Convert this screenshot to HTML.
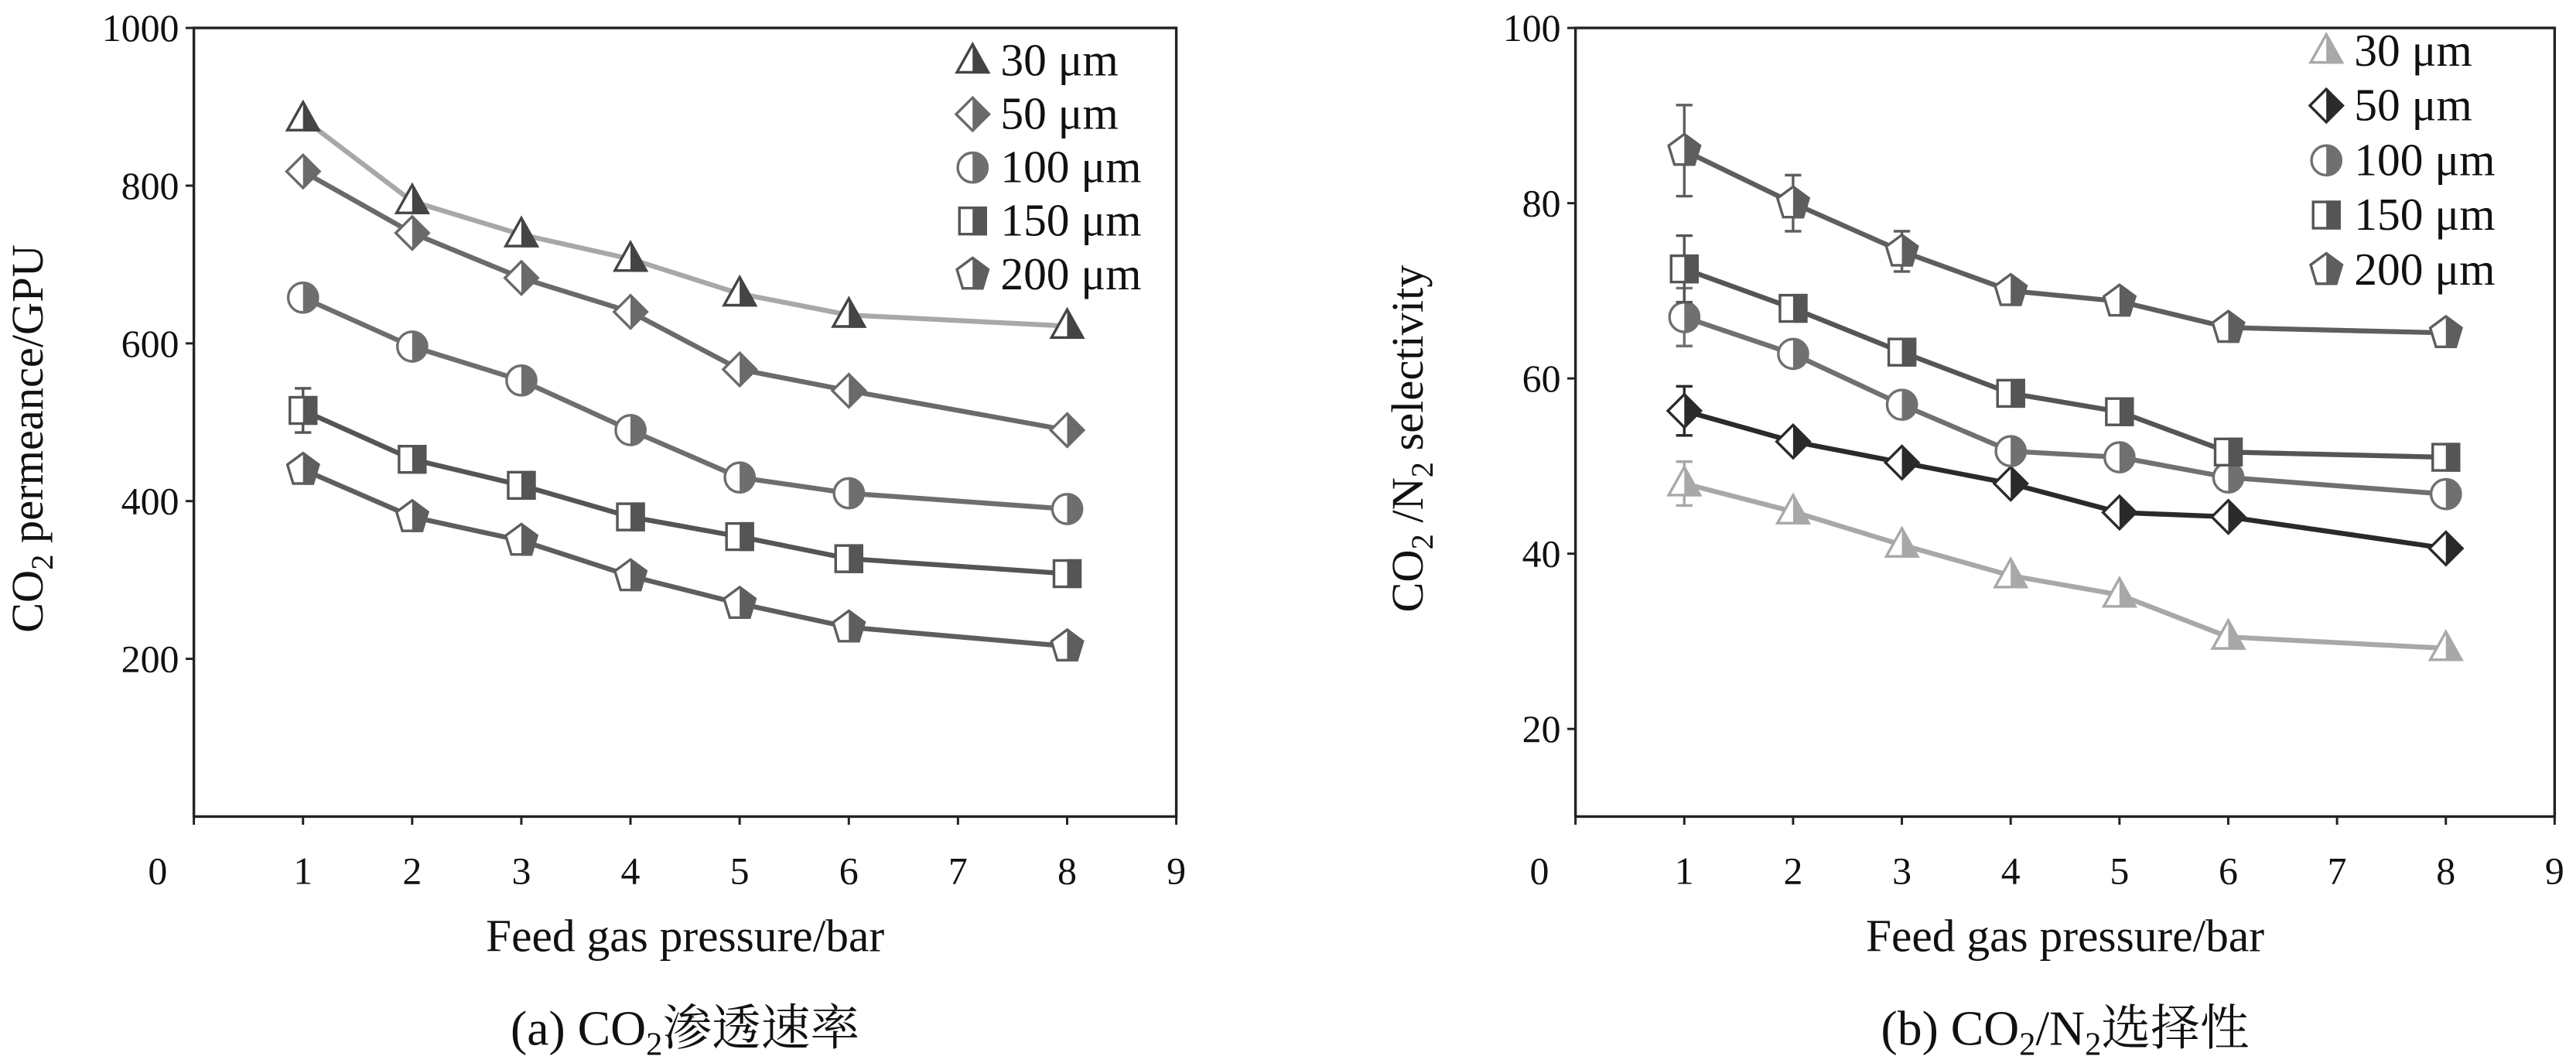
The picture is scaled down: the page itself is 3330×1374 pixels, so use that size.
<!DOCTYPE html>
<html><head><meta charset="utf-8"><style>
html,body{margin:0;padding:0;background:#fff;}
svg{display:block;}
text{font-family:"Liberation Serif","Noto Serif CJK SC",serif;fill:#111;}
</style></head><body>
<svg id="fig" width="3330" height="1374" viewBox="0 0 1568 647" preserveAspectRatio="none" xmlns="http://www.w3.org/2000/svg">
<defs><clipPath id="rh" clipPathUnits="userSpaceOnUse"><rect x="0" y="-20" width="20" height="40"/></clipPath></defs>
<g id="pa"></g>
<g id="pb"></g>
</svg>
<script>
const NS="http://www.w3.org/2000/svg";
const xVals=[1,2,3,4,5,6,8];
const xTicks=[0,1,2,3,4,5,6,7,8,9];
const labels=["30 μm","50 μm","100 μm","150 μm","200 μm"];
const shapes=["tri","dia","circ","sq","pent"];
// chart a: CO2 permeance
const perm30=[885,780,738,707,663,636,622];
const perm50=[818,740,683,640,567,540,490];
const perm100=[658,596,553,490,430,410,390];
const perm150=[515,453,420,380,355,327,308];
const perm200=[440,380,350,305,270,240,216];
const permErr150=[28,0,0,0,0,0,0];
const permErr200=[12,0,0,0,0,0,0];
const permTicks=[200,400,600,800,1000];
// chart b: selectivity
const sel30=[48,44.8,41,37.5,35.3,30.5,29.2];
const sel50=[56.3,52.8,50.4,48,44.7,44.2,40.6];
const sel100=[67,62.8,57,51.7,51,48.7,46.8];
const sel150=[72.5,68,63,58.3,56.2,51.6,51];
const sel200=[86,80,74.5,70,68.8,65.8,65.2];
const selErr30=[2.5,0,0,0,0,0,0];
const selErr50=[2.8,0,0,0,0,0,0];
const selErr100=[3.3,0,0,0,0,0,0];
const selErr150=[3.8,0,0,0,0,0,0];
const selErr200=[5.2,3.2,2.3,1.3,0,0,0];
const selTicks=[20,40,60,80,100];

function el(p,t,a){const e=document.createElementNS(NS,t);for(const k in a)e.setAttribute(k,a[k]);p.appendChild(e);return e;}
function shapeEl(p,s,fill,stroke){
  const a={fill:fill,stroke:stroke,"stroke-width":1.6};
  if(s==="tri"){a.points="0,-10 9.5,7 -9.5,7";return el(p,"polygon",a);}
  if(s==="dia"){a.points="0,-10 10,0 0,10 -10,0";return el(p,"polygon",a);}
  if(s==="circ"){a.cx=0;a.cy=0;a.r=9;return el(p,"circle",a);}
  if(s==="sq"){a.x=-8;a.y=-8;a.width=16;a.height=16;return el(p,"rect",a);}
  a.points="0,-10 9.5,-3 6,8.5 -6,8.5 -9.5,-3";return el(p,"polygon",a);
}
function marker(p,x,y,s,col){
  const g=el(p,"g",{transform:`translate(${x},${y})`});
  
  
  shapeEl(g,s,"#fff",col);
  const h=shapeEl(g,s,col,col);h.setAttribute("clip-path","url(#rh)");
  return g;
}
function chart(root,o){
  const X=v=>o.x0+v*(o.x9-o.x0)/9;
  const Y=v=>o.yb-(v-o.ymin)*(o.yb-o.yt)/(o.ymax-o.ymin);
  el(root,"rect",{x:o.x0,y:o.yt,width:o.x9-o.x0,height:o.yb-o.yt,fill:"none",stroke:"#222","stroke-width":1.6});
  xTicks.forEach(t=>{
    el(root,"line",{x1:X(t),x2:X(t),y1:o.yb,y2:o.yb+5,stroke:"#222","stroke-width":1.4});
    const tx=el(root,"text",{x:t===0?X(t)-22:X(t),y:o.yb+41,"text-anchor":"middle","font-size":23.5});
    tx.textContent=t;
    
    
  });
  o.yTicks.forEach(t=>{
    el(root,"line",{x1:o.x0-5,x2:o.x0,y1:Y(t),y2:Y(t),stroke:"#222","stroke-width":1.4});
    const tx=el(root,"text",{x:o.x0-9,y:Y(t)+8,"text-anchor":"end","font-size":23.5});
    tx.textContent=t;
    
    
  });
  o.series.forEach((s,i)=>{
    const g=el(root,"g",{});
    
    
    el(g,"polyline",{points:s.v.map((v,j)=>X(xVals[j])+","+Y(v)).join(" "),fill:"none",stroke:s.lc,"stroke-width":3});
    s.v.forEach((v,j)=>{
      const e=s.e?s.e[j]:0;
      if(e>0){const x=X(xVals[j]);
        el(g,"line",{x1:x,x2:x,y1:Y(v+e),y2:Y(v-e),stroke:s.mc,"stroke-width":1.6});
        el(g,"line",{x1:x-5,x2:x+5,y1:Y(v+e),y2:Y(v+e),stroke:s.mc,"stroke-width":1.6});
        el(g,"line",{x1:x-5,x2:x+5,y1:Y(v-e),y2:Y(v-e),stroke:s.mc,"stroke-width":1.6});}
      marker(g,X(xVals[j]),Y(v),shapes[i],s.mc);
    });
    const lg=el(root,"g",{});
    
    
    marker(lg,o.lx,o.ly+i*o.ld,shapes[i],s.mc);
    const t=el(lg,"text",{x:o.lx+17,y:o.ly+i*o.ld+9,"font-size":28});t.textContent=labels[i];
  });
  const xt=el(root,"text",{x:(o.x0+o.x9)/2,y:579,"text-anchor":"middle","font-size":28});
  xt.textContent="Feed gas pressure/bar";
  
  
  const yt=el(root,"text",{transform:`translate(${o.ytx},${(o.yt+o.yb)/2+10}) rotate(-90)`,"text-anchor":"middle","font-size":27.5});
  yt.innerHTML=o.ytitle;
  
  
  const cp=el(root,"text",{x:(o.x0+o.x9)/2,y:636,"text-anchor":"middle","font-size":30});
  cp.innerHTML=o.cap;
  
  
}
chart(document.getElementById("pa"),{x0:118,x9:716,yt:17,yb:497,ymin:0,ymax:1000,yTicks:permTicks,lx:592,ly:37,ld:32.5,ytx:26,
 ytitle:'CO<tspan font-size="19" dy="6">2</tspan><tspan dy="-6"> permeance/GPU</tspan>',
 cap:'(a) CO<tspan font-size="20" dy="6">2</tspan><tspan dy="-6">渗透速率</tspan>',
 series:[{v:perm30,lc:"#a8a8a8",mc:"#444"},{v:perm50,lc:"#6a6a6a",mc:"#6a6a6a"},{v:perm100,lc:"#6e6e6e",mc:"#6e6e6e"},{v:perm150,e:permErr150,lc:"#555",mc:"#555"},{v:perm200,e:permErr200,lc:"#5e5e5e",mc:"#5e5e5e"}]});
chart(document.getElementById("pb"),{x0:959,x9:1555,yt:17,yb:497,ymin:10,ymax:100,yTicks:selTicks,lx:1416,ly:31,ld:33.3,ytx:866,
 ytitle:'CO<tspan font-size="19" dy="6">2</tspan><tspan dy="-6"> /N</tspan><tspan font-size="19" dy="6">2</tspan><tspan dy="-6"> selectivity</tspan>',
 cap:'(b) CO<tspan font-size="20" dy="6">2</tspan><tspan dy="-6">/N</tspan><tspan font-size="20" dy="6">2</tspan><tspan dy="-6">选择性</tspan>',
 series:[{v:sel30,e:selErr30,lc:"#a8a8a8",mc:"#a8a8a8"},{v:sel50,e:selErr50,lc:"#2a2a2a",mc:"#2a2a2a"},{v:sel100,e:selErr100,lc:"#707070",mc:"#707070"},{v:sel150,e:selErr150,lc:"#555",mc:"#555"},{v:sel200,e:selErr200,lc:"#5e5e5e",mc:"#5e5e5e"}]});
</script>
</body></html>
